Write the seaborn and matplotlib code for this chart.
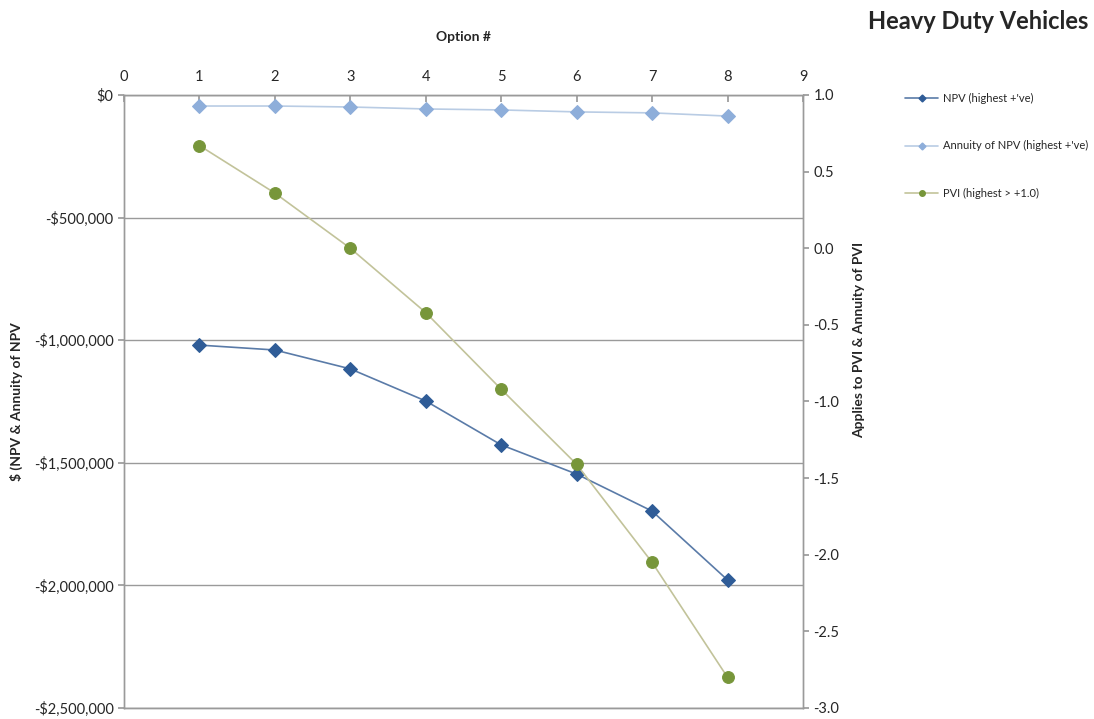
import matplotlib
matplotlib.use("Agg")
import matplotlib.pyplot as plt
from matplotlib.lines import Line2D
from matplotlib.ticker import FuncFormatter
import seaborn as sns
import pandas as pd

options = [1, 2, 3, 4, 5, 6, 7, 8]
npv = [-1020000, -1040000, -1117000, -1248000, -1427000, -1546000, -1697000, -1978000]
annuity_npv = [-45000, -45000, -49000, -57000, -61000, -69000, -73000, -86000]
pvi = [0.67, 0.36, 0.0, -0.42, -0.92, -1.41, -2.05, -2.80]

series_labels = ["NPV (highest +'ve)", "Annuity of NPV (highest +'ve)", "PVI (highest > +1.0)"]

sns.set_theme(style="white")
plt.rcParams["font.family"] = ["Lato", "DejaVu Sans"]

df = pd.DataFrame({"option": options, "npv": npv, "annuity": annuity_npv, "pvi": pvi})

fig = plt.figure(figsize=(10.94, 7.19), dpi=100)
ax = fig.add_axes([0.1133, 0.0153, 0.6207, 0.8526])
ax2 = ax.twinx()

npv_line, npv_mark = "#5A7BA8", "#2F5C97"
ann_line, ann_mark = "#B9CCE4", "#8EAEDA"
pvi_line, pvi_mark = "#C2C39A", "#77963A"

sns.lineplot(data=df, x="option", y="npv", ax=ax, color=npv_line, lw=1.2,
             marker="D", markersize=7.5, markerfacecolor=npv_mark,
             markeredgecolor=npv_mark)
sns.lineplot(data=df, x="option", y="annuity", ax=ax, color=ann_line, lw=1.2,
             marker="D", markersize=7.5, markerfacecolor=ann_mark,
             markeredgecolor=ann_mark)
sns.lineplot(data=df, x="option", y="pvi", ax=ax2, color=pvi_line, lw=1.2,
             marker="o", markersize=8.5, markerfacecolor=pvi_mark,
             markeredgecolor=pvi_mark)

grey = "#9A9A9A"
ax.set_xlim(0, 9)
ax.set_ylim(-2500000, 0)
ax2.set_ylim(-3.0, 1.0)
ax.set_xticks(range(0, 10))
ax.set_yticks([0, -500000, -1000000, -1500000, -2000000, -2500000])
ax2.set_yticks([1.0, 0.5, 0.0, -0.5, -1.0, -1.5, -2.0, -2.5, -3.0])

ax.yaxis.set_major_formatter(FuncFormatter(
    lambda v, p: f"-${abs(v):,.0f}" if v < 0 else f"${v:,.0f}"))
ax2.yaxis.set_major_formatter(FuncFormatter(lambda v, p: f"{v:.1f}"))

ax.xaxis.tick_top()
ax.xaxis.set_label_position("top")
ax.set_xlabel("Option #", fontsize=10, fontweight="bold", labelpad=21)
ax.set_ylabel("$ (NPV & Annuity of NPV", fontsize=10, fontweight="bold", labelpad=8)
ax2.set_ylabel("Applies to PVI & Annuity of PVI", fontsize=10, fontweight="bold",
               labelpad=10, y=0.6)

ax.grid(axis="y", color=grey, lw=1)
ax.grid(axis="x", visible=False)
ax2.grid(False)
for a in (ax, ax2):
    for s in a.spines.values():
        s.set_color(grey)
        s.set_linewidth(1)
ax.tick_params(axis="x", direction="in", length=5, color=grey, labelsize=10.5, pad=8,
               top=True, bottom=False)
ax.tick_params(axis="y", direction="out", length=4, color=grey, labelsize=10.5, left=True)
ax2.tick_params(axis="y", direction="out", length=4, color=grey, labelsize=10.5, right=True)

handles = [
    Line2D([], [], color=npv_line, lw=1.2, marker="D", markersize=3.5,
           markerfacecolor=npv_mark, markeredgecolor=npv_mark),
    Line2D([], [], color=ann_line, lw=1.2, marker="D", markersize=3.5,
           markerfacecolor=ann_mark, markeredgecolor=ann_mark),
    Line2D([], [], color=pvi_line, lw=1.2, marker="o", markersize=4,
           markerfacecolor=pvi_mark, markeredgecolor=pvi_mark),
]
fig.legend(handles, series_labels, loc="upper left", bbox_to_anchor=(0.818, 0.885),
           frameon=False, fontsize=8, labelspacing=3.3, handlelength=3.0,
           handletextpad=0.4)

fig.text(0.9945, 0.97, "Heavy Duty Vehicles", ha="right", va="center",
         fontsize=17, fontweight="bold")

fig.savefig("out.png", dpi=100, facecolor="white")
